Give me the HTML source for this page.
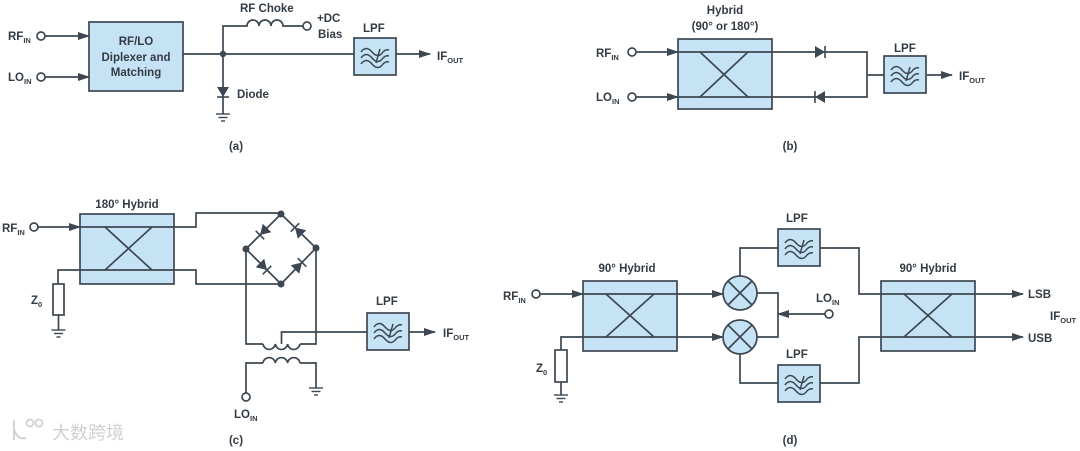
<!DOCTYPE html>
<html><head><meta charset="utf-8"><style>
html,body{margin:0;padding:0;background:#fff;}
svg{display:block;}
text{font-family:"Liberation Sans","Noto Sans CJK SC",sans-serif;font-weight:bold;fill:#333b45;font-size:11.5px;}
.s{font-size:7.5px;}
</style></head><body>
<svg width="1080" height="451" viewBox="0 0 1080 451" xmlns="http://www.w3.org/2000/svg">
<defs>
<g id="lpf">
<rect x="0" y="0" width="42" height="37" fill="#c6e3f6" stroke="#3d4752" stroke-width="1.7"/>
<g fill="none" stroke="#3d4752" stroke-width="1.5">
<path d="M7,14 q5,-7 11,0 t11,0 q3,-3 6,-2"/>
<path d="M7,20 q5,-7 11,0 t11,0 q3,-3 6,-2"/>
<path d="M7,26 q5,-7 11,0 t11,0 q3,-3 6,-2"/>
<path d="M22,25 L26,11"/>
</g>
</g>
<g id="gnd" stroke="#3d4752" stroke-width="1.4">
<line x1="-7" y1="0" x2="7" y2="0"/><line x1="-4.5" y1="3.5" x2="4.5" y2="3.5"/><line x1="-2" y1="7" x2="2" y2="7"/>
</g>
<g id="dio"><polygon points="-5,-6 5,0 -5,6" fill="#3d4752"/><line x1="5" y1="-6" x2="5" y2="6" stroke="#3d4752" stroke-width="1.6"/></g>
<marker id="ar" markerWidth="12" markerHeight="8" refX="11" refY="4" orient="auto" markerUnits="userSpaceOnUse"><polygon points="0,0 12,4 0,8" fill="#3d4752"/></marker>
</defs>
<g fill="none" stroke="#3d4752" stroke-width="1.7">
<!-- (a) -->
<circle cx="41" cy="36" r="4" fill="#fff"/><line x1="45" y1="36" x2="89" y2="36" marker-end="url(#ar)"/>
<circle cx="41" cy="77" r="4" fill="#fff"/><line x1="45" y1="77" x2="89" y2="77" marker-end="url(#ar)"/>
<rect x="89" y="22" width="94" height="69" fill="#c6e3f6"/>
<line x1="183" y1="54" x2="354" y2="54"/>
<path d="M223,54 V26 H247 a6,6 0 0 1 12,0 a6,6 0 0 1 12,0 a6,6 0 0 1 12,0 H303"/>
<circle cx="307" cy="26" r="4" fill="#fff"/>
<line x1="223" y1="54" x2="223" y2="114"/>
<line x1="395" y1="54" x2="430" y2="54" marker-end="url(#ar)"/>
<!-- (b) -->
<circle cx="632" cy="52" r="4" fill="#fff"/><line x1="636" y1="52" x2="678" y2="52" marker-end="url(#ar)"/>
<circle cx="632" cy="97" r="4" fill="#fff"/><line x1="636" y1="97" x2="678" y2="97" marker-end="url(#ar)"/>
<rect x="678" y="39" width="94" height="70" fill="#c6e3f6"/>
<path d="M678,52 H867 V97 H678"/>
<path d="M700,52 L748,97 M748,52 L700,97"/>
<line x1="867" y1="75" x2="884" y2="75"/>
<line x1="927" y1="75" x2="952" y2="75" marker-end="url(#ar)"/>
<!-- (c) -->
<circle cx="34" cy="227" r="4" fill="#fff"/><line x1="38" y1="227" x2="80" y2="227" marker-end="url(#ar)"/>
<rect x="80" y="214" width="94" height="70" fill="#c6e3f6"/>
<path d="M80,227 H196 V213 H281"/>
<path d="M58,284 V270 H196 V284 H281"/>
<path d="M105,227 L152,270 M152,227 L105,270"/>
<rect x="53" y="284" width="11" height="31" fill="#fff"/>
<line x1="58.5" y1="315" x2="58.5" y2="330"/>
<path d="M281,214 L246,249 L281,284 L316,248 Z"/>
<path d="M246,249 V344 H263 M300,344 H316 V248"/>
<path d="M263,344 a6.2,6.2 0 0 0 12.3,0 a6.2,6.2 0 0 0 12.3,0 a6.2,6.2 0 0 0 12.3,0"/>
<path d="M263,363 a6.2,6.2 0 0 1 12.3,0 a6.2,6.2 0 0 1 12.3,0 a6.2,6.2 0 0 1 12.3,0"/>
<path d="M281.5,344 V332 H367"/>
<path d="M263,363 H246 V393"/><circle cx="246" cy="397" r="4" fill="#fff"/>
<path d="M300,363 H316 V388"/>
<line x1="409" y1="332" x2="435" y2="332" marker-end="url(#ar)"/>
<!-- (d) -->
<circle cx="536" cy="294" r="4" fill="#fff"/><line x1="540" y1="294" x2="583" y2="294" marker-end="url(#ar)"/>
<rect x="583" y="281" width="94" height="70" fill="#c6e3f6"/>
<line x1="583" y1="294" x2="723" y2="294" marker-end="url(#ar)"/>
<path d="M561,350 V337 H723" marker-end="url(#ar)"/>
<path d="M606,294 L654,337 M654,294 L606,337"/>
<rect x="555" y="350" width="12" height="32" fill="#fff"/>
<line x1="561" y1="382" x2="561" y2="395"/>
<circle cx="740" cy="293" r="17" fill="#c6e3f6"/><circle cx="740" cy="337" r="17" fill="#c6e3f6"/>
<path d="M728,281 L752,305 M752,281 L728,305 M728,325 L752,349 M752,325 L728,349"/>
<path d="M757,293 H778 V337 H757"/>
<circle cx="829" cy="314" r="4" fill="#fff"/><line x1="825" y1="314" x2="778" y2="314" marker-end="url(#ar)"/>
<path d="M740,276 V248 H778"/><path d="M740,354 V383 H778"/>
<path d="M820,248 H859 V294 H1023" marker-end="url(#ar)"/>
<path d="M820,383 H859 V337 H1023" marker-end="url(#ar)"/>
<rect x="881" y="281" width="94" height="70" fill="#c6e3f6"/>
<path d="M881,294 H975 M881,337 H975 M904,294 L952,337 M952,294 L904,337"/>
</g>
<g fill="#3d4752">
<circle cx="223" cy="54" r="3.2"/>
<circle cx="281" cy="214" r="3.5"/><circle cx="246" cy="249" r="3.5"/><circle cx="316" cy="248" r="3.5"/><circle cx="281" cy="284" r="3.5"/>
</g>
<use href="#dio" transform="translate(223,92) rotate(90)"/>
<use href="#dio" transform="translate(820,52)"/>
<use href="#dio" transform="translate(820,97) rotate(180)"/>
<use href="#dio" transform="translate(263.5,231.5) rotate(135)"/>
<use href="#dio" transform="translate(298.5,231) rotate(-135)"/>
<use href="#dio" transform="translate(263.5,266.5) rotate(45)"/>
<use href="#dio" transform="translate(298.5,266) rotate(-45)"/>
<use href="#gnd" transform="translate(223,114)"/>
<use href="#gnd" transform="translate(58.5,330)"/>
<use href="#gnd" transform="translate(316,388)"/>
<use href="#gnd" transform="translate(561,395)"/>
<use href="#lpf" transform="translate(354,38)"/>
<use href="#lpf" transform="translate(884,56)"/>
<use href="#lpf" transform="translate(367,313)"/>
<use href="#lpf" transform="translate(778,229)"/>
<use href="#lpf" transform="translate(778,365)"/>
<text x="8" y="40">RF<tspan class="s" dy="3">IN</tspan></text>
<text x="8" y="81">LO<tspan class="s" dy="3">IN</tspan></text>
<text x="136" y="45" text-anchor="middle">RF/LO</text>
<text x="136" y="61" text-anchor="middle">Diplexer and</text>
<text x="136" y="76" text-anchor="middle">Matching</text>
<text x="240" y="12">RF Choke</text>
<text x="317" y="22">+DC</text>
<text x="318" y="38">Bias</text>
<text x="363" y="32">LPF</text>
<text x="437" y="60">IF<tspan class="s" dy="3">OUT</tspan></text>
<text x="237" y="98">Diode</text>
<text x="236" y="150" text-anchor="middle">(a)</text>
<text x="725" y="14" text-anchor="middle">Hybrid</text>
<text x="725" y="30" text-anchor="middle">(90° or 180°)</text>
<text x="596" y="57">RF<tspan class="s" dy="3">IN</tspan></text>
<text x="596" y="101">LO<tspan class="s" dy="3">IN</tspan></text>
<text x="894" y="52">LPF</text>
<text x="959" y="80">IF<tspan class="s" dy="3">OUT</tspan></text>
<text x="790" y="150" text-anchor="middle">(b)</text>
<text x="127" y="208" text-anchor="middle">180° Hybrid</text>
<text x="2" y="232">RF<tspan class="s" dy="3">IN</tspan></text>
<text x="31" y="304">Z<tspan class="s" dy="3">0</tspan></text>
<text x="376" y="305">LPF</text>
<text x="443" y="337">IF<tspan class="s" dy="3">OUT</tspan></text>
<text x="234" y="418">LO<tspan class="s" dy="3">IN</tspan></text>
<text x="236" y="444" text-anchor="middle">(c)</text>
<text x="627" y="272" text-anchor="middle">90° Hybrid</text>
<text x="503" y="300">RF<tspan class="s" dy="3">IN</tspan></text>
<text x="536" y="372">Z<tspan class="s" dy="3">0</tspan></text>
<text x="786" y="222">LPF</text>
<text x="786" y="358">LPF</text>
<text x="816" y="302">LO<tspan class="s" dy="3">IN</tspan></text>
<text x="928" y="272" text-anchor="middle">90° Hybrid</text>
<text x="1028" y="298">LSB</text>
<text x="1028" y="342">USB</text>
<text x="1050" y="320">IF<tspan class="s" dy="3">OUT</tspan></text>
<text x="790" y="444" text-anchor="middle">(d)</text>
<g fill="none" stroke="#d4d4d4" stroke-width="2">
<path d="M14,420 V440 M14,430 q4,10 12,8"/><circle cx="30" cy="423" r="3.5"/><circle cx="39" cy="423" r="3.5"/>
</g>
<text x="52" y="439" style="font-size:18px;fill:#d0d0d0;font-weight:normal;">大数跨境</text>
</svg>
</body></html>
